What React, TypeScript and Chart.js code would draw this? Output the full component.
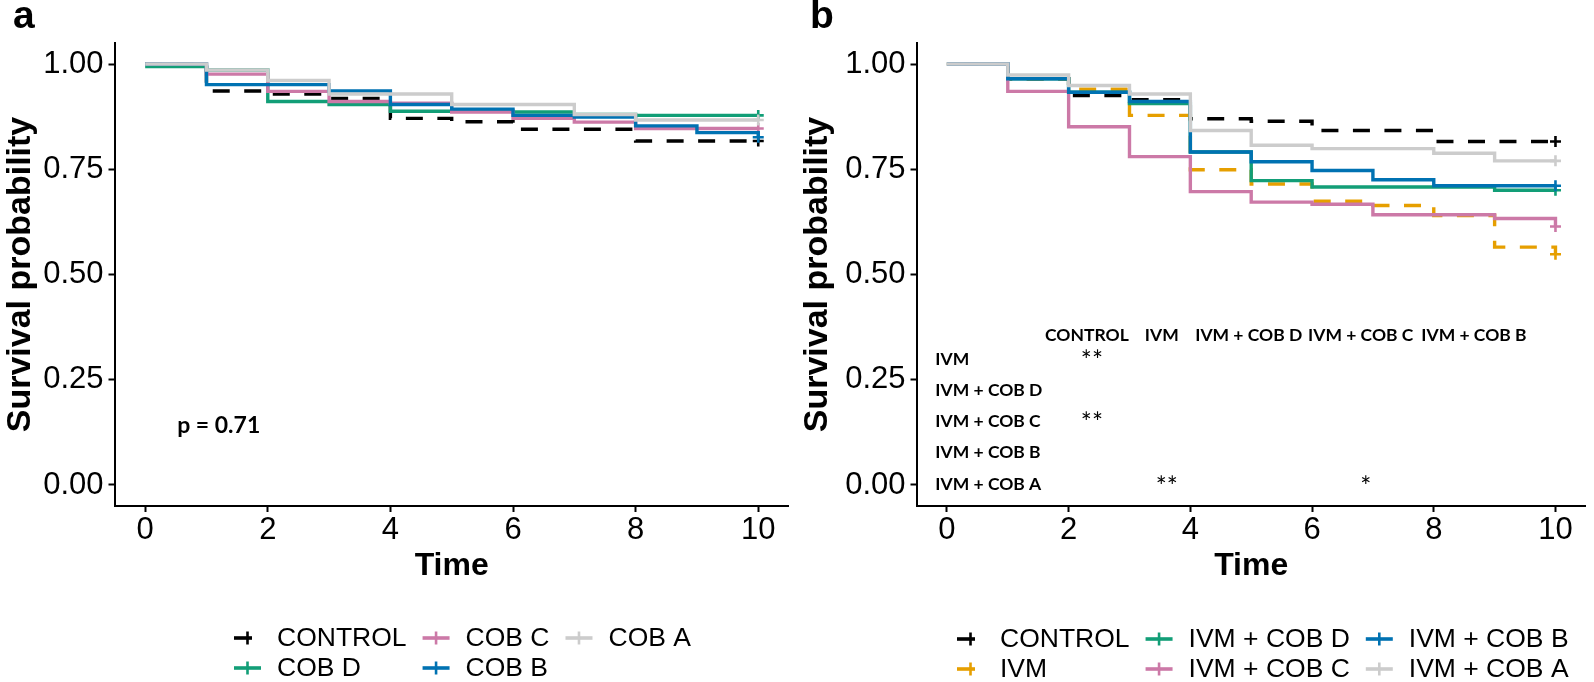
import React, { useEffect, useRef } from "react";
import { Chart, registerables } from "chart.js";

Chart.register(...registerables);

// ---------------- data ----------------
const times = [0, 1, 2, 3, 4, 5, 6, 7, 8, 9, 10];
const xTickValues = [0, 2, 4, 6, 8, 10];
const yTickValues = [0, 0.25, 0.5, 0.75, 1];

// Panel a (value at index i holds on [i, i+1); last entry = value at t = 10)
const groupsA = ["CONTROL", "COB D", "COB C", "COB B", "COB A"];
const survControlA = [1, 0.936, 0.929, 0.918, 0.871, 0.863, 0.845, 0.845, 0.817, 0.817, 0.817];
const survCobD = [0.994, 0.986, 0.911, 0.904, 0.888, 0.888, 0.886, 0.88, 0.878, 0.878, 0.878];
const survCobC = [1, 0.976, 0.935, 0.911, 0.907, 0.886, 0.871, 0.862, 0.847, 0.847, 0.847];
const survCobB = [1, 0.951, 0.951, 0.936, 0.904, 0.893, 0.878, 0.874, 0.853, 0.837, 0.826];
const survCobA = [1, 0.986, 0.961, 0.929, 0.929, 0.904, 0.904, 0.88, 0.867, 0.867, 0.867];
const pValueText = "p = 0.71";

// Panel b
const groupsB = ["CONTROL", "IVM", "IVM + COB D", "IVM + COB C", "IVM + COB B", "IVM + COB A"];
const survControlB = [1, 0.965, 0.925, 0.915, 0.87, 0.864, 0.842, 0.842, 0.816, 0.816, 0.816];
const survIvm = [1, 0.965, 0.94, 0.878, 0.749, 0.715, 0.674, 0.664, 0.64, 0.565, 0.548];
const survIvmCobD = [1, 0.965, 0.933, 0.906, 0.791, 0.723, 0.708, 0.708, 0.708, 0.7, 0.7];
const survIvmCobC = [1, 0.935, 0.851, 0.78, 0.697, 0.672, 0.667, 0.642, 0.642, 0.633, 0.614];
const survIvmCobB = [1, 0.965, 0.933, 0.911, 0.791, 0.768, 0.747, 0.725, 0.711, 0.711, 0.711];
const survIvmCobA = [1, 0.974, 0.949, 0.929, 0.842, 0.807, 0.799, 0.799, 0.788, 0.77, 0.77];

// Pairwise comparison table (panel b)
const tableColumns = ["CONTROL", "IVM", "IVM + COB D", "IVM + COB C", "IVM + COB B"];
const tableRowLabels = ["IVM", "IVM + COB D", "IVM + COB C", "IVM + COB B", "IVM + COB A"];
const tableStars = [
  ["**", "", "", "", ""],
  ["", "", "", "", ""],
  ["**", "", "", "", ""],
  ["", "", "", "", ""],
  ["", "**", "", "*", ""],
];

// ---------------- styles ----------------
const SANS = "'Liberation Sans', Arial, sans-serif";
const TABLE_FONT = "Lato, 'Open Sans', sans-serif";
const colorsA = ["#000000", "#129E77", "#CC79A7", "#0072B2", "#CCCCCC"];
const dashedA = [true, false, false, false, false];
const colorsB = ["#000000", "#E69F00", "#129E77", "#CC79A7", "#0072B2", "#CCCCCC"];
const dashedB = [true, true, false, false, false, false];

// table layout in data coordinates
const tableColX = [2.3, 3.53, 4.96, 6.8, 8.66];
const tableHeaderY = 0.356;
const tableRowY = [0.299, 0.225, 0.152, 0.0775, 0.002];
const tableRowLabelX = -0.19;

function makeDatasets(groups: string[], series: number[][], colors: string[], dashed: boolean[]) {
  const n = groups.length;
  return groups.map((g, gi) => ({
    label: g,
    data: times.map((t, i) => ({ x: t, y: series[gi][i] })),
    borderColor: colors[gi],
    backgroundColor: colors[gi],
    borderWidth: 3.4,
    borderDash: dashed[gi] ? [17, 14.5] : [],
    stepped: true,
    fill: false,
    pointStyle: "cross",
    pointRadius: times.map((_, i) => (i === times.length - 1 ? 5.5 : 0)),
    pointHoverRadius: 0,
    pointBorderColor: colors[gi],
    pointBorderWidth: 2.6,
    order: n - gi,
  }));
}

function drawLegend(
  ctx: CanvasRenderingContext2D,
  labels: string[],
  colors: string[],
  dashed: boolean[],
  startX: number,
  rowYs: number[]
) {
  const keyW = 27;
  const keyGap = 16;
  const colGap = 16;
  const nrow = 2;
  const ncol = Math.ceil(labels.length / nrow);
  ctx.save();
  ctx.font = `26.5px ${SANS}`;
  let x = startX;
  for (let c = 0; c < ncol; c++) {
    let maxW = 0;
    for (let r = 0; r < nrow; r++) {
      const idx = c * nrow + r;
      if (idx >= labels.length) continue;
      const y = rowYs[r];
      ctx.strokeStyle = colors[idx];
      ctx.lineWidth = 3.6;
      ctx.setLineDash(dashed[idx] ? [18, 12] : []);
      ctx.beginPath();
      ctx.moveTo(x, y);
      ctx.lineTo(x + keyW, y);
      ctx.stroke();
      ctx.setLineDash([]);
      ctx.lineWidth = 2.6;
      ctx.beginPath();
      ctx.moveTo(x + keyW / 2, y - 6.5);
      ctx.lineTo(x + keyW / 2, y + 6.5);
      ctx.stroke();
      ctx.fillStyle = "#000";
      ctx.textAlign = "left";
      ctx.textBaseline = "middle";
      ctx.fillText(labels[idx], x + keyW + keyGap, y + 1);
      maxW = Math.max(maxW, ctx.measureText(labels[idx]).width);
    }
    x += keyW + keyGap + maxW + colGap;
  }
  ctx.restore();
}

function makeConfig(panel: "a" | "b"): any {
  const isA = panel === "a";
  const datasets = isA
    ? makeDatasets(groupsA, [survControlA, survCobD, survCobC, survCobB, survCobA], colorsA, dashedA)
    : makeDatasets(
        groupsB,
        [survControlB, survIvm, survIvmCobD, survIvmCobC, survIvmCobB, survIvmCobA],
        colorsB,
        dashedB
      );
  const yAxisWidth = isA ? 114.5 : 119.5;

  const overlay = {
    id: "overlay" + panel,
    afterDraw(chart: any) {
      const ctx: CanvasRenderingContext2D = chart.ctx;
      const xs = chart.scales.x;
      const ys = chart.scales.y;
      ctx.save();
      // panel letter
      ctx.fillStyle = "#000";
      ctx.font = `bold 39px ${SANS}`;
      ctx.textAlign = "left";
      ctx.textBaseline = "alphabetic";
      ctx.fillText(panel, 13, 27.5);

      if (isA) {
        ctx.font = `bold 23px ${TABLE_FONT}`;
        ctx.textAlign = "center";
        ctx.textBaseline = "middle";
        ctx.fillText(pValueText, xs.getPixelForValue(1.2), ys.getPixelForValue(0.14));
        drawLegend(ctx, groupsA, colorsA, dashedA, 234, [638, 668]);
      } else {
        ctx.font = `bold 17.5px ${TABLE_FONT}`;
        ctx.textBaseline = "middle";
        ctx.textAlign = "center";
        tableColumns.forEach((c, i) => {
          ctx.fillText(c, xs.getPixelForValue(tableColX[i]), ys.getPixelForValue(tableHeaderY));
        });
        ctx.textAlign = "left";
        tableRowLabels.forEach((r, i) => {
          ctx.fillText(r, xs.getPixelForValue(tableRowLabelX), ys.getPixelForValue(tableRowY[i]));
        });
        ctx.font = `26px ${TABLE_FONT}`;
        ctx.textAlign = "center";
        tableStars.forEach((row, ri) => {
          row.forEach((s, ci) => {
            if (!s) return;
            ctx.fillText(s, xs.getPixelForValue(tableColX[ci]) + 5, ys.getPixelForValue(tableRowY[ri]) + 3);
          });
        });
        drawLegend(ctx, groupsB, colorsB, dashedB, 160, [639, 669]);
      }
      ctx.restore();
    },
  };

  return {
    type: "line",
    data: { datasets },
    options: {
      animation: false,
      responsive: false,
      maintainAspectRatio: false,
      events: [],
      layout: { padding: { left: 0, right: isA ? 4 : 0, top: 43, bottom: 97 } },
      plugins: { legend: { display: false }, tooltip: { enabled: false }, title: { display: false } },
      scales: {
        x: {
          type: "linear",
          min: -0.5,
          max: 10.5,
          afterBuildTicks: (s: any) => {
            s.ticks = xTickValues.map((v) => ({ value: v }));
          },
          afterFit: (s: any) => {
            s.height = 79;
          },
          grid: {
            display: true,
            drawOnChartArea: false,
            drawTicks: true,
            tickLength: 6,
            tickWidth: 2,
            tickColor: "#000",
            color: "#000",
          },
          border: { display: true, color: "#000", width: 2 },
          ticks: {
            color: "#000",
            font: { family: SANS, size: 31 },
            padding: 0,
            maxRotation: 0,
            autoSkip: false,
            callback: (v: any) => String(v),
          },
          title: {
            display: true,
            text: "Time",
            color: "#000",
            font: { family: SANS, size: 32, weight: "bold" },
            padding: 0,
          },
        },
        y: {
          type: "linear",
          min: -0.05,
          max: 1.05,
          afterBuildTicks: (s: any) => {
            s.ticks = yTickValues.map((v) => ({ value: v }));
          },
          afterFit: (s: any) => {
            s.width = yAxisWidth;
          },
          grid: {
            display: true,
            drawOnChartArea: false,
            drawTicks: true,
            tickLength: 6,
            tickWidth: 2,
            tickColor: "#000",
            color: "#000",
          },
          border: { display: true, color: "#000", width: 2 },
          ticks: {
            color: "#000",
            font: { family: SANS, size: 31 },
            padding: 5,
            autoSkip: false,
            callback: (v: any) => Number(v).toFixed(2),
          },
          title: {
            display: true,
            text: "Survival probability",
            color: "#000",
            font: { family: SANS, size: 34, weight: "bold" },
            padding: 0,
          },
        },
      },
    },
    plugins: [overlay],
  };
}

export default function App() {
  const refA = useRef<HTMLCanvasElement | null>(null);
  const refB = useRef<HTMLCanvasElement | null>(null);

  useEffect(() => {
    const ca = new Chart(refA.current as HTMLCanvasElement, makeConfig("a"));
    const cb = new Chart(refB.current as HTMLCanvasElement, makeConfig("b"));
    return () => {
      ca.destroy();
      cb.destroy();
    };
  }, []);

  return (
    <div
      style={{
        position: "fixed",
        left: 0,
        top: 0,
        width: 1594,
        height: 682,
        background: "#fff",
        overflow: "hidden",
      }}
    >
      <canvas
        ref={refA}
        width={797}
        height={682}
        style={{ position: "absolute", left: 0, top: 0, width: 797, height: 682 }}
      />
      <canvas
        ref={refB}
        width={797}
        height={682}
        style={{ position: "absolute", left: 797, top: 0, width: 797, height: 682 }}
      />
    </div>
  );
}
